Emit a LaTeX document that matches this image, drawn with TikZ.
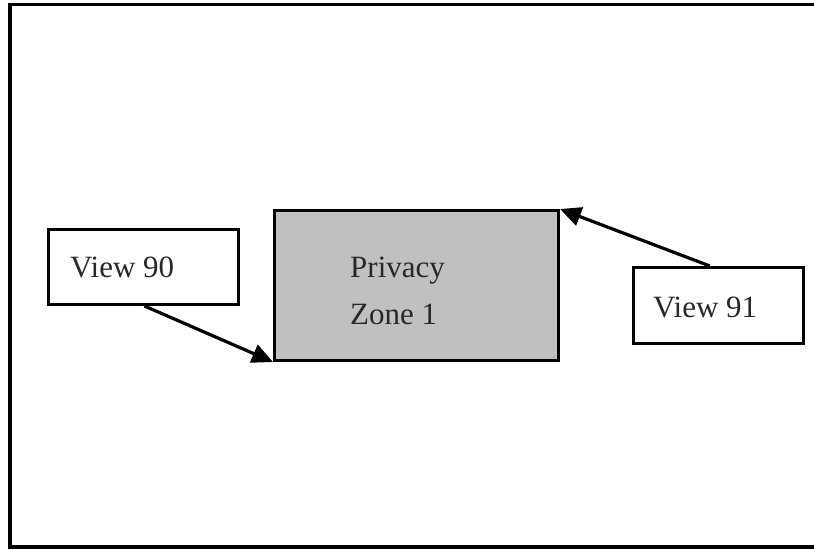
\documentclass[tikz,border=0pt]{standalone}
\usepackage{fontspec}
\setmainfont{Liberation Serif}
\usetikzlibrary{arrows.meta,calc}
\definecolor{zonegray}{RGB}{192,192,192}
\definecolor{inkgray}{RGB}{40,40,40}
\begin{document}
\begin{tikzpicture}[x=1pt,y=-1pt,
  box/.style={draw=black,line width=3pt,inner sep=0pt,anchor=north west},
  lbl/.style={font=\fontsize{31}{37}\selectfont,text=inkgray,inner sep=0pt,anchor=base west},
  conn/.style={line width=3.2pt,-{Triangle[length=21pt,width=19pt]}}]
\useasboundingbox (0,0) rectangle (814,549);
\clip (0,0) rectangle (814,549);
\draw[line width=3.4pt] (10,4.5) rectangle (830,547);
% boxes
\node[box,minimum width=190pt,minimum height=75pt] (v90) at (47,228) {};
\node[box,fill=zonegray,minimum width=284pt,minimum height=150pt] (pz) at (273,209) {};
\node[box,minimum width=170pt,minimum height=76pt] (v91) at (632,266) {};
% labels
\node[lbl] (t90) at (70,277) {View 90};
\node[lbl] (tp1) at (350,277) {Privacy};
\node[lbl] (tp2) at (350,324) {Zone 1};
\node[lbl] (t91) at (653,317) {View 91};
% connectors
\coordinate (s90) at ($(v90.south west)!0.505!(v90.south east)$);
\coordinate (s91) at ($(v91.north west)!0.45!(v91.north east)$);
\draw[conn] (s90) -- (pz.south west);
\draw[conn] (s91) -- (pz.north east);
\end{tikzpicture}
\end{document}
